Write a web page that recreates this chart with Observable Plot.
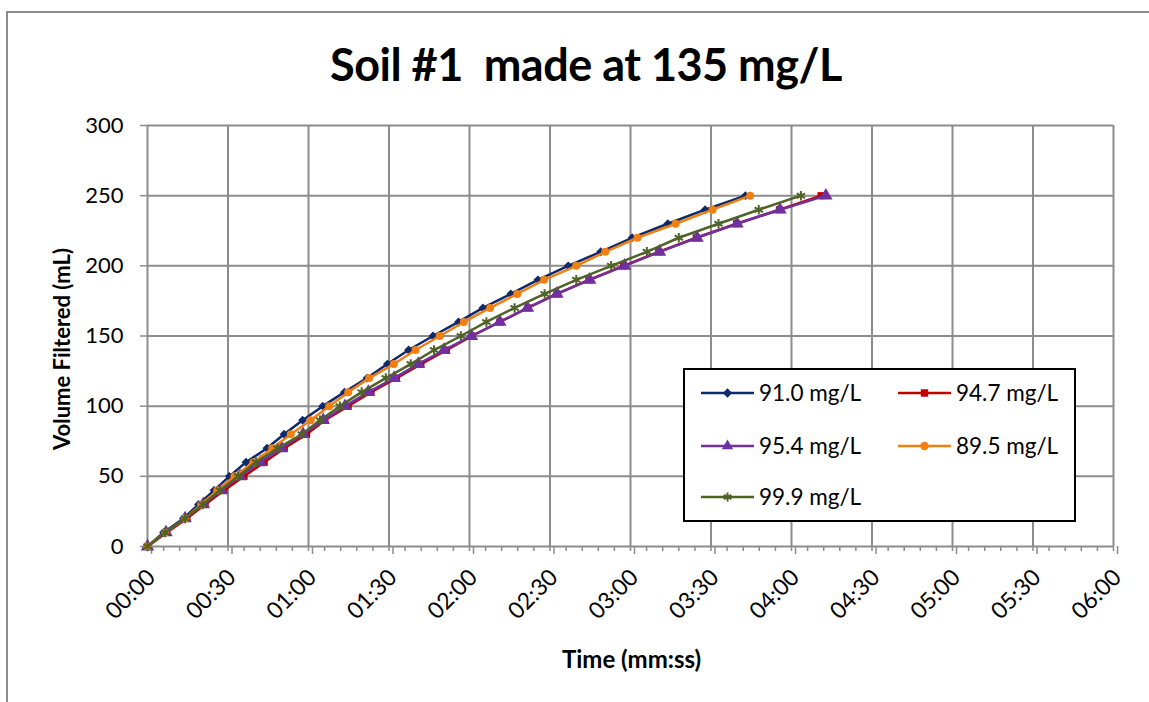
<!DOCTYPE html>
<html>
<head>
<meta charset="utf-8">
<script src="https://cdn.jsdelivr.net/npm/d3@7"></script>
<script src="https://cdn.jsdelivr.net/npm/@observablehq/plot@0.6"></script>
<style>
  html, body { margin:0; padding:0; background:#fff; }
  body { width:1149px; height:702px; position:relative; overflow:hidden; font-family: Lato, "Open Sans", sans-serif; }
  #frame { position:absolute; left:6px; top:11px; width:1200px; height:760px; border-left:2px solid #8c8c8c; border-top:2px solid #8c8c8c; }
  #title { position:absolute; left:0; width:1172px; top:37px; text-align:center; font-weight:700; font-size:45px; letter-spacing:-0.5px; color:#000; }
  #chart { position:absolute; left:0; top:0; }
  #legend { position:absolute; left:683px; top:368px; width:393px; height:154px; border:2px solid #000; background:#fff; box-sizing:border-box; }
  .item { position:absolute; display:flex; align-items:center; font-size:22.5px; color:#000; }
  .item svg { margin-right:5px; }
</style>
</head>
<body>
<div id="frame"></div>
<div id="chart"></div>
<div id="title">Soil #1&nbsp; made at 135 mg/L</div>
<div id="legend"></div>
<script>
// ---- data (time in seconds to reach each volume) ----
const volumes = [0,10,20,30,40,50,60,70,80,90,100,110,120,130,140,150,160,170,180,190,200,210,220,230,240,250];
const series91_0 = [0,6,13.4,19,24.8,30.5,36.7,44.5,50.9,57.8,65.3,73.4,81.8,89.4,97.3,106.4,115.9,125,135.4,145.5,156.8,168.9,180.6,193.9,207.8,222.8];
const series94_7 = [0,7.2,14.7,21.5,28.5,36,43.5,51,59.3,66.1,74.8,83.3,92.8,101.9,111.4,121,131.3,141.8,152.6,164.5,177.4,190.5,204.5,219.5,235.5,251];
const series95_4 = [0,6.9,14,20.8,27.5,34.5,42,50,58,65.5,73.6,82.3,91.9,100.9,110.5,120.7,131.3,141.6,152.6,164.8,177.8,190.8,204.8,219.7,235.7,252.8];
const series89_5 = [0,6.6,14,20,26,32.4,39.5,46.5,53.4,60.8,67.7,74.8,82.6,91.8,99.9,108.9,117.9,127.7,137.8,147.8,159.8,170.6,182.6,196.8,210.6,224.6];
const series99_9 = [0,6.6,14,20.6,27,33.8,40.5,48.5,57.5,64.3,71.7,79.8,88.8,98.1,106.8,116.8,126.3,136.8,148,159.8,172.8,186.1,198,212.8,227.8,243.5];
const seriesNames = ["91.0 mg/L","94.7 mg/L","95.4 mg/L","89.5 mg/L","99.9 mg/L"];
const seriesColors = ["#0e2a6b","#c00000","#7030a0","#f07f12","#4f6228"];
const seriesSymbols = ["diamond2","square","triangle","circle","asterisk"];
const xTicks = [0,30,60,90,120,150,180,210,240,270,300,330,360];
const yTicks = [0,50,100,150,200,250,300];

const allSeries = [series91_0, series94_7, series95_4, series89_5, series99_9];
const table = allSeries.flatMap((s, i) => s.map((t, j) => ({name: seriesNames[i], t, v: volumes[j]})));

const mmss = t => String(Math.floor(t/60)).padStart(2,"0") + ":" + String(t%60).padStart(2,"0");
const gray = "#8c8c8c";
const font = "Lato, 'Open Sans', sans-serif";

const marks = [
  Plot.gridX(xTicks.slice(1), {stroke: gray, strokeOpacity: 1, strokeWidth: 2}),
  Plot.gridY(yTicks.slice(1), {stroke: gray, strokeOpacity: 1, strokeWidth: 2}),
  Plot.ruleX([0], {stroke: gray, strokeWidth: 2}),
  Plot.ruleY([0], {stroke: gray, strokeWidth: 2}),
  Plot.axisX({ticks: d3.range(0, 361, 6), tickSize: 5, tickFormat: () => "", stroke: gray, strokeWidth: 1.5, label: null}),
  Plot.axisX({ticks: xTicks, tickSize: 8, tickRotate: -45, tickFormat: mmss, stroke: gray, strokeWidth: 1.5, fontSize: 23, tickPadding: 19, dx: 4, label: null, fill: "#000"}),
  Plot.axisY({ticks: yTicks, tickSize: 7, stroke: gray, strokeWidth: 1.5, fontSize: 22, tickPadding: 17, label: null, fill: "#000"}),
  Plot.text(["Volume Filtered (mL)"], {frameAnchor: "left", textAnchor: "middle", dx: -85, dy: 13, rotate: -90, fontWeight: "bold", fontSize: 22, fill: "#000"}),
  Plot.text(["Time (mm:ss)"], {frameAnchor: "bottom", textAnchor: "middle", dx: 1, dy: 121, fontWeight: "bold", fontSize: 24, fill: "#000"})
];
seriesNames.forEach((name, i) => {
  const d = table.filter(r => r.name === name);
  marks.push(Plot.line(d, {x: "t", y: "v", stroke: seriesColors[i], strokeWidth: 2.5}));
  const sym = seriesSymbols[i];
  if (sym === "asterisk") {
    marks.push(Plot.dot(d, {x: "t", y: "v", symbol: sym, stroke: seriesColors[i], strokeWidth: 2, r: 4.5}));
  } else {
    marks.push(Plot.dot(d, {x: "t", y: "v", symbol: sym, fill: seriesColors[i], stroke: "none", r: sym === "triangle" ? 5 : 4}));
  }
});

const chart = Plot.plot({
  width: 1149, height: 702,
  marginLeft: 147, marginRight: 36, marginTop: 125, marginBottom: 156,
  style: {fontFamily: font, background: "transparent"},
  x: {domain: [0, 360]},
  y: {domain: [0, 300]},
  marks
});
document.getElementById("chart").appendChild(chart);

// legend
const legend = document.getElementById("legend");
const pos = [[16,24],[213,24],[16,77],[213,77],[16,128]];
seriesNames.forEach((name, i) => {
  const item = document.createElement("div");
  item.className = "item";
  item.style.left = pos[i][0] + "px";
  item.style.top = (pos[i][1] - 15) + "px";
  const svg = d3.create("svg").attr("width", 53).attr("height", 16);
  svg.append("line").attr("x1", 0).attr("x2", 53).attr("y1", 8).attr("y2", 8).attr("stroke", seriesColors[i]).attr("stroke-width", 2.5);
  const symType = {diamond2: d3.symbolDiamond2, square: d3.symbolSquare, triangle: d3.symbolTriangle, circle: d3.symbolCircle, asterisk: d3.symbolAsterisk}[seriesSymbols[i]];
  const p = svg.append("path").attr("transform", "translate(26.5,8)").attr("d", d3.symbol(symType, 55)());
  if (seriesSymbols[i] === "asterisk") p.attr("fill", "none").attr("stroke", seriesColors[i]).attr("stroke-width", 2);
  else p.attr("fill", seriesColors[i]);
  item.appendChild(svg.node());
  const span = document.createElement("span");
  span.textContent = name;
  item.appendChild(span);
  legend.appendChild(item);
});
</script>
</body>
</html>
